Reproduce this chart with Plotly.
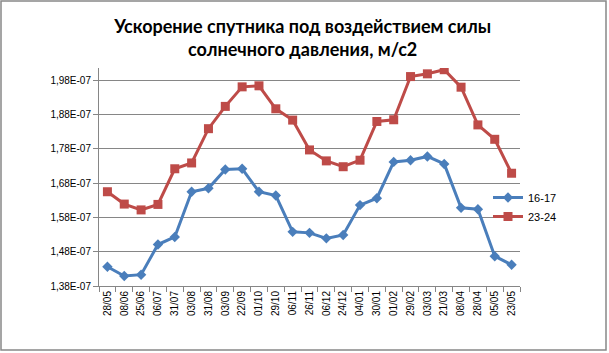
import plotly.graph_objects as go

categories = ["28/05", "08/06", "25/06", "06/07", "31/07", "03/08", "31/08", "03/09", "22/09",
              "01/10", "29/10", "06/11", "26/11", "06/12", "24/12", "04/01", "30/01", "01/02",
              "29/02", "03/03", "21/03", "08/04", "28/04", "05/05", "23/05"]

series_16_17 = [1.436e-7, 1.409e-7, 1.413e-7, 1.501e-7, 1.523e-7, 1.655e-7, 1.665e-7, 1.720e-7,
                1.722e-7, 1.655e-7, 1.644e-7, 1.538e-7, 1.535e-7, 1.519e-7, 1.529e-7, 1.616e-7,
                1.636e-7, 1.742e-7, 1.747e-7, 1.758e-7, 1.736e-7, 1.608e-7, 1.604e-7, 1.467e-7,
                1.442e-7]

series_23_24 = [1.655e-7, 1.619e-7, 1.602e-7, 1.618e-7, 1.722e-7, 1.739e-7, 1.839e-7, 1.904e-7,
                1.961e-7, 1.964e-7, 1.897e-7, 1.864e-7, 1.777e-7, 1.745e-7, 1.728e-7, 1.747e-7,
                1.860e-7, 1.865e-7, 1.991e-7, 1.999e-7, 2.011e-7, 1.960e-7, 1.850e-7, 1.808e-7,
                1.709e-7]

y_tick_values = [1.38e-7, 1.48e-7, 1.58e-7, 1.68e-7, 1.78e-7, 1.88e-7, 1.98e-7]
y_tick_labels = ["1,38E-07", "1,48E-07", "1,58E-07", "1,68E-07", "1,78E-07", "1,88E-07", "1,98E-07"]

title_text = "Ускорение спутника под воздействием силы<br>солнечного давления, м/с2"

W, H = 609, 353
L, R, T, B = 99, 89, 68, 67
PW, PH = W - L - R, H - T - B

def px(x):
    return (x - L) / PW

def py(y):
    return (H - B - y) / PH

fig = go.Figure()
fig.add_trace(go.Scatter(
    x=categories, y=series_16_17, name="16-17", mode="lines+markers",
    line=dict(color="#4A7EBB", width=3),
    marker=dict(symbol="diamond", size=8, color="#4A7EBB"),
))
fig.add_trace(go.Scatter(
    x=categories, y=series_23_24, name="23-24", mode="lines+markers",
    line=dict(color="#BE4B48", width=3),
    marker=dict(symbol="square", size=9, color="#BE4B48"),
))

fig.update_layout(
    width=W, height=H,
    margin=dict(l=L, r=R, t=T, b=B),
    paper_bgcolor="white", plot_bgcolor="white",
    font=dict(family="Liberation Sans, Arial, sans-serif", color="#000000"),
    title=dict(text=title_text, x=0.497, xanchor="center", y=1 - 33 / H, yanchor="middle",
               yref="container", xref="container",
               font=dict(family="Lato, sans-serif", size=18, color="#000000", weight="bold")),
    showlegend=True,
    legend=dict(x=px(488), y=py(183), xanchor="left", yanchor="top",
                bgcolor="rgba(0,0,0,0)", font=dict(size=11, color="#000000"),
                itemwidth=30, tracegroupgap=0),
    xaxis=dict(type="category", showgrid=False, showline=True, linecolor="#868686", linewidth=1,
               ticks="outside", tickson="boundaries", ticklen=5, tickcolor="#868686",
               tickangle=-90, tickfont=dict(size=10, color="#000000"), zeroline=False,
               range=[-0.5, len(categories) - 0.5]),
    yaxis=dict(range=[1.38e-7, 2.016e-7], tickvals=y_tick_values, ticktext=y_tick_labels,
               showgrid=True, gridcolor="#868686", gridwidth=1, showline=True,
               linecolor="#868686", linewidth=1, ticks="outside", ticklen=5,
               tickcolor="#868686", tickfont=dict(size=10, color="#000000"), zeroline=False),
    shapes=[dict(type="rect", xref="paper", yref="paper",
                 x0=px(1), x1=px(606), y0=py(350), y1=py(1),
                 line=dict(color="#888888", width=1.5), layer="below")],
)

fig.write_html("out.html", config={"displayModeBar": False},
               post_script="document.body.style.margin='0';")
